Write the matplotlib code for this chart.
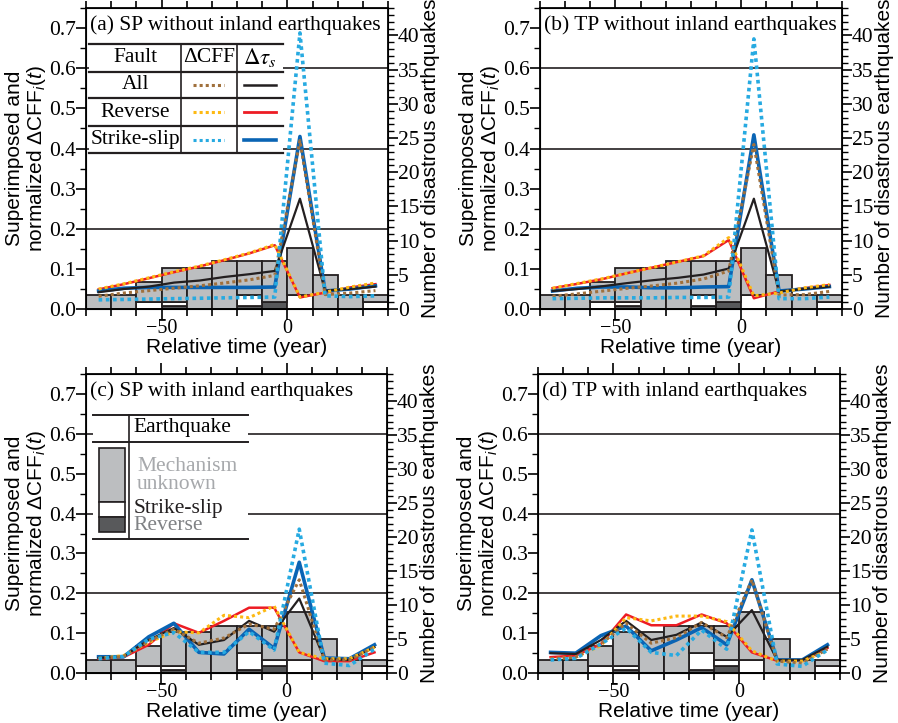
import numpy as np
import matplotlib
matplotlib.use("Agg")
import matplotlib.pyplot as plt
from matplotlib.ticker import MultipleLocator
from matplotlib.patches import Rectangle
from matplotlib.lines import Line2D

plt.rcParams['font.family'] = ['Liberation Serif', 'DejaVu Serif']
plt.rcParams['mathtext.fontset'] = 'custom'
plt.rcParams['mathtext.rm'] = 'Liberation Sans'
plt.rcParams['mathtext.it'] = 'Liberation Sans:italic'

# bin centres (relative time, year) and bin edges of the histogram
years = [-75, -65, -55, -45, -35, -25, -15, -5, 5, 15, 25, 35]
bin_left = [-80, -70, -60, -50, -40, -30, -20, -10, 0, 10, 20, 30]

# earthquake counts: without inland earthquakes (a, b)
rev_wo = [0, 0, 0, 0.5, 0, 0, 0.5, 1, 0, 0, 0, 0]
ss_wo = [0, 0, 1, 0.5, 0, 0, 1.5, 0, 2, 0, 0, 1]
unk_wo = [2, 2, 3, 5, 6, 7, 5, 6, 7, 5, 2, 1]
# with inland earthquakes (c, d)
rev_w = [0, 0, 0, 0.4, 0, 0, 0.5, 1, 0, 0, 0, 0]
ss_w = [0, 0, 1, 0.6, 0, 0, 2.5, 1, 2, 0, 0, 1]
unk_w = [2, 2, 3, 5, 6, 7, 4, 5, 7, 5, 2, 1]

# (a) SP without inland
a_all_cff = [0.032, 0.040, 0.046, 0.052, 0.058, 0.065, 0.073, 0.084, 0.420, 0.036, 0.040, 0.046]
a_all_ts = [0.042, 0.050, 0.056, 0.066, 0.071, 0.080, 0.087, 0.095, 0.275, 0.046, 0.050, 0.056]
a_rev_cff = [0.050, 0.063, 0.078, 0.093, 0.107, 0.123, 0.140, 0.161, 0.030, 0.042, 0.055, 0.065]
a_rev_ts = [0.049, 0.062, 0.077, 0.092, 0.106, 0.122, 0.139, 0.159, 0.029, 0.041, 0.054, 0.062]
a_ss_cff = [0.023, 0.024, 0.025, 0.026, 0.027, 0.028, 0.029, 0.030, 0.688, 0.033, 0.031, 0.033]
a_ss_ts = [0.045, 0.052, 0.054, 0.054, 0.054, 0.054, 0.054, 0.055, 0.430, 0.045, 0.050, 0.058]

# (b) TP without inland
b_all_cff = [0.032, 0.038, 0.045, 0.052, 0.058, 0.065, 0.075, 0.095, 0.410, 0.035, 0.036, 0.044]
b_all_ts = [0.045, 0.050, 0.057, 0.065, 0.072, 0.078, 0.086, 0.101, 0.275, 0.044, 0.050, 0.056]
b_rev_cff = [0.052, 0.064, 0.076, 0.090, 0.104, 0.118, 0.133, 0.178, 0.033, 0.040, 0.053, 0.061]
b_rev_ts = [0.052, 0.063, 0.075, 0.090, 0.104, 0.118, 0.132, 0.172, 0.027, 0.044, 0.052, 0.060]
b_ss_cff = [0.026, 0.027, 0.028, 0.028, 0.028, 0.029, 0.029, 0.030, 0.673, 0.026, 0.026, 0.030]
b_ss_ts = [0.045, 0.052, 0.055, 0.055, 0.053, 0.053, 0.055, 0.056, 0.434, 0.045, 0.050, 0.056]

# (c) SP with inland
c_all_cff = [0.036, 0.042, 0.080, 0.110, 0.075, 0.088, 0.123, 0.110, 0.234, 0.033, 0.033, 0.065]
c_all_ts = [0.038, 0.042, 0.083, 0.113, 0.071, 0.083, 0.131, 0.104, 0.187, 0.036, 0.033, 0.065]
c_rev_cff = [0.037, 0.044, 0.077, 0.104, 0.101, 0.145, 0.139, 0.168, 0.052, 0.036, 0.036, 0.065]
c_rev_ts = [0.036, 0.040, 0.071, 0.125, 0.101, 0.131, 0.164, 0.164, 0.052, 0.030, 0.030, 0.052]
c_ss_cff = [0.036, 0.042, 0.085, 0.102, 0.052, 0.052, 0.104, 0.058, 0.361, 0.025, 0.019, 0.060]
c_ss_ts = [0.041, 0.041, 0.091, 0.125, 0.052, 0.048, 0.110, 0.062, 0.278, 0.038, 0.036, 0.071]

# (d) TP with inland
d_all_cff = [0.036, 0.040, 0.073, 0.125, 0.075, 0.089, 0.127, 0.089, 0.234, 0.030, 0.025, 0.060]
d_all_ts = [0.050, 0.048, 0.083, 0.131, 0.083, 0.096, 0.127, 0.091, 0.158, 0.033, 0.033, 0.066]
d_rev_cff = [0.036, 0.040, 0.069, 0.139, 0.131, 0.143, 0.143, 0.129, 0.056, 0.030, 0.030, 0.056]
d_rev_ts = [0.040, 0.044, 0.073, 0.147, 0.120, 0.120, 0.147, 0.125, 0.052, 0.031, 0.031, 0.063]
d_ss_cff = [0.033, 0.037, 0.073, 0.113, 0.052, 0.044, 0.108, 0.060, 0.359, 0.023, 0.017, 0.058]
d_ss_ts = [0.052, 0.050, 0.094, 0.118, 0.056, 0.083, 0.114, 0.071, 0.234, 0.033, 0.033, 0.071]

grid_levels = [0.2, 0.4, 0.6]

GRAY = '#bcbec0'
DARK = '#58595b'
BROWN = '#a0703c'
BLACK = '#231f20'
ORANGE = '#fdb913'
RED = '#ed1c24'
LBLUE = '#27aae1'
BLUE = '#0a64b4'
DOT = (0, (1, 1))
SANS = 'Liberation Sans'
FS_TICK = 15.5
FS_XTICK = 14.5
FS_LAB = 15
FS_TXT = 15.5

panels = [
    dict(pos=[0.0958, 0.5725, 0.3363, 0.4164], title='(a) SP without inland earthquakes',
         lines=(a_all_cff, a_all_ts, a_rev_cff, a_rev_ts, a_ss_cff, a_ss_ts),
         bars=(rev_wo, ss_wo, unk_wo), legend='fault'),
    dict(pos=[0.6013, 0.5725, 0.3363, 0.4164], title='(b) TP without inland earthquakes',
         lines=(b_all_cff, b_all_ts, b_rev_cff, b_rev_ts, b_ss_cff, b_ss_ts),
         bars=(rev_wo, ss_wo, unk_wo), legend=None),
    dict(pos=[0.0958, 0.0690, 0.3352, 0.4137], title='(c) SP with inland earthquakes',
         lines=(c_all_cff, c_all_ts, c_rev_cff, c_rev_ts, c_ss_cff, c_ss_ts),
         bars=(rev_w, ss_w, unk_w), legend='quake'),
    dict(pos=[0.5991, 0.0690, 0.3363, 0.4137], title='(d) TP with inland earthquakes',
         lines=(d_all_cff, d_all_ts, d_rev_cff, d_rev_ts, d_ss_cff, d_ss_ts),
         bars=(rev_w, ss_w, unk_w), legend=None),
]

fig = plt.figure(figsize=(8.98, 7.23), dpi=100)


def fault_legend(ax):
    T = ax.transAxes
    x0, x1, xc1, xc2 = 0.01, 0.652, 0.315, 0.50
    rows = [0.880, 0.789, 0.700, 0.607, 0.518]
    ax.add_patch(Rectangle((x0, rows[-1]), x1 - x0, rows[0] - rows[-1], transform=T,
                           facecolor='white', edgecolor='none', zorder=6))
    for r in rows:
        ax.add_line(Line2D([x0, x1], [r, r], transform=T, color=BLACK, lw=1.6, zorder=7))
    for xc in [xc1, xc2]:
        ax.add_line(Line2D([xc, xc], [rows[-1], rows[0]], transform=T, color=BLACK, lw=1.2, zorder=7))
    mids = [(rows[i] + rows[i + 1]) / 2 for i in range(4)]
    ax.text((x0 + xc1) / 2, mids[0], 'Fault', transform=T, ha='center', va='center', fontsize=FS_TXT, zorder=8)
    ax.text((xc1 + xc2) / 2, mids[0], 'ΔCFF', transform=T, ha='center', va='center', fontsize=FS_TXT, zorder=8)
    ax.text((xc2 + x1) / 2, mids[0], r'$\Delta\tau_s$', transform=T, ha='center', va='center',
            fontsize=FS_TXT + 1, math_fontfamily='stix', zorder=8)
    names = ['All', 'Reverse', 'Strike-slip']
    cffc = [BROWN, ORANGE, LBLUE]
    tsc = [BLACK, RED, BLUE]
    tsw = [1.8, 2.0, 2.6]
    for name, m, cc, tc, w in zip(names, mids[1:], cffc, tsc, tsw):
        ax.text((x0 + xc1) / 2, m, name, transform=T, ha='center', va='center', fontsize=FS_TXT, zorder=8)
        ax.add_line(Line2D([0.354, 0.457], [m, m], transform=T, color=cc, lw=2.2, ls=DOT, zorder=8))
        ax.add_line(Line2D([0.523, 0.629], [m, m], transform=T, color=tc, lw=w, zorder=8))


def quake_legend(ax):
    T = ax.transAxes
    x0, x1, xc = 0.023, 0.538, 0.143
    top, mid, bot = 0.862, 0.774, 0.450
    ax.add_patch(Rectangle((x0, bot), x1 - x0, top - bot, transform=T,
                           facecolor='white', edgecolor='none', zorder=6))
    for r in [top, mid, bot]:
        ax.add_line(Line2D([x0, x1], [r, r], transform=T, color=BLACK, lw=1.4, zorder=7))
    ax.add_line(Line2D([xc, xc], [bot, top], transform=T, color=BLACK, lw=1.2, zorder=7))
    ax.text(0.159, 0.820, 'Earthquake', transform=T, ha='left', va='center', fontsize=FS_TXT, zorder=8)
    ax.add_patch(Rectangle((0.044, 0.572), 0.086, 0.182, transform=T, facecolor=GRAY,
                           edgecolor=BLACK, lw=1.2, zorder=8))
    ax.add_patch(Rectangle((0.044, 0.522), 0.086, 0.050, transform=T, facecolor='white',
                           edgecolor=BLACK, lw=1.2, zorder=8))
    ax.add_patch(Rectangle((0.044, 0.4725), 0.086, 0.0495, transform=T, facecolor=DARK,
                           edgecolor=BLACK, lw=1.2, zorder=8))
    ax.text(0.170, 0.690, 'Mechanism', transform=T, ha='left', va='center', fontsize=FS_TXT,
            color='#a7a9ac', zorder=8)
    ax.text(0.170, 0.629, 'unknown', transform=T, ha='left', va='center', fontsize=FS_TXT,
            color='#a7a9ac', zorder=8)
    ax.text(0.159, 0.552, 'Strike-slip', transform=T, ha='left', va='center', fontsize=FS_TXT,
            color=BLACK, zorder=8)
    ax.text(0.159, 0.494, 'Reverse', transform=T, ha='left', va='center', fontsize=FS_TXT,
            color='#808285', zorder=8)


for p in panels:
    ax = fig.add_axes(p['pos'])
    ax2 = ax.twinx()
    ax.set_zorder(ax2.get_zorder() + 1)
    ax.patch.set_visible(False)

    # stacked histogram on the count axis
    rev, ss, unk = p['bars']
    rev = np.array(rev)
    ss = np.array(ss)
    unk = np.array(unk)
    kw = dict(width=10, align='edge', edgecolor=BLACK, linewidth=1.3)
    ax2.bar(bin_left, rev, color=DARK, **kw)
    ax2.bar(bin_left, ss, bottom=rev, color='white', **kw)
    ax2.bar(bin_left, unk, bottom=rev + ss, color=GRAY, **kw)

    for g in grid_levels:
        ax.axhline(g, color=BLACK, lw=1.2, zorder=1)

    all_cff, all_ts, rev_cff, rev_ts, ss_cff, ss_ts = p['lines']
    ax.plot(years, rev_ts, color=RED, lw=1.8, zorder=3)
    ax.plot(years, ss_ts, color=BLUE, lw=2.6, zorder=3)
    ax.plot(years, all_ts, color=BLACK, lw=1.6, zorder=3)
    ax.plot(years, rev_cff, color=ORANGE, lw=2.2, ls=DOT, zorder=4)
    ax.plot(years, all_cff, color=BROWN, lw=2.2, ls=DOT, zorder=4)
    ax.plot(years, ss_cff, color=LBLUE, lw=2.6, ls=DOT, zorder=4)

    ax.set_xlim(-80, 40)
    ax.set_ylim(0, 0.75)
    ax2.set_ylim(0, 44)

    ax.xaxis.set_major_locator(MultipleLocator(50))
    ax.xaxis.set_minor_locator(MultipleLocator(10))
    ax.yaxis.set_major_locator(MultipleLocator(0.1))
    ax.yaxis.set_minor_locator(MultipleLocator(0.05))
    ax.yaxis.set_major_formatter(lambda v, pos: '%.1f' % v)
    ax2.yaxis.set_major_locator(MultipleLocator(5))
    ax2.yaxis.set_minor_locator(MultipleLocator(1))
    ax.tick_params(axis='x', which='both', direction='out', top=True, labelsize=FS_XTICK, pad=-1)
    ax.tick_params(axis='x', which='major', length=8, width=1.2)
    ax.tick_params(axis='x', which='minor', length=5, width=1.2)
    ax.tick_params(axis='y', which='major', direction='out', length=7, width=1.2, labelsize=FS_TICK, pad=0)
    ax.tick_params(axis='y', which='minor', direction='out', length=4, width=1.0)
    ax2.tick_params(axis='y', which='major', direction='out', length=7, width=1.2, labelsize=FS_TICK, pad=0)
    ax2.tick_params(axis='y', which='minor', direction='out', length=4, width=1.0)
    for s in ax.spines.values():
        s.set_linewidth(1.3)

    ax.set_xlabel('Relative time (year)', family=SANS, fontsize=FS_LAB, labelpad=0)
    ax.set_ylabel('Superimposed and\nnormalized ΔCFF$_i(t)$', family=SANS, fontsize=FS_LAB,
                  labelpad=1, linespacing=1.05)
    ax2.set_ylabel('Number of disastrous earthquakes', family=SANS, fontsize=FS_LAB, labelpad=1)

    ax.text(0.013, 0.944, p['title'], transform=ax.transAxes, ha='left', va='center',
            fontsize=15.5, zorder=9)

    if p['legend'] == 'fault':
        fault_legend(ax)
    elif p['legend'] == 'quake':
        quake_legend(ax)

fig.savefig('out.png', dpi=100)
